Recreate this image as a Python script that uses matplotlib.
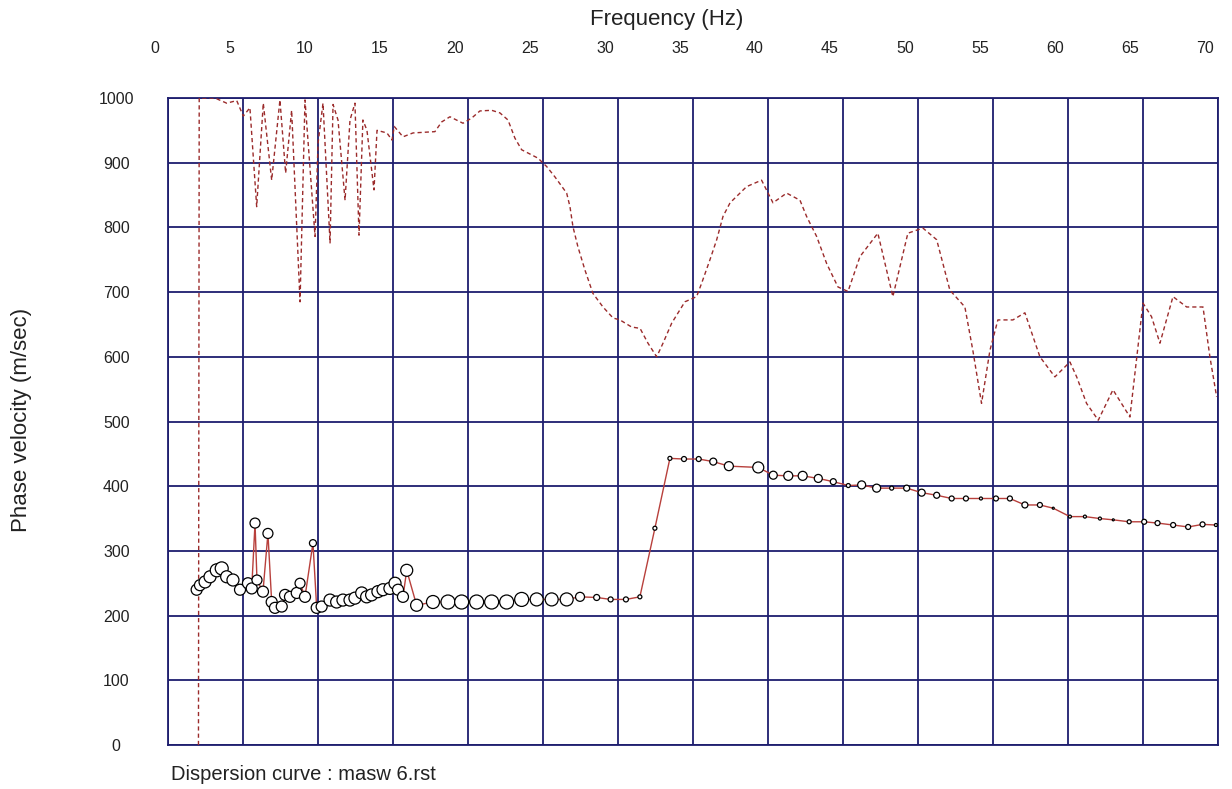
import matplotlib
matplotlib.use("Agg")
import matplotlib.pyplot as plt
import matplotlib.transforms as mtransforms

# dispersion curve (picked phase velocities)
freq = [1.93, 2.15, 2.49, 2.82, 3.27, 3.60, 3.93, 4.35, 4.82, 5.35,
        5.60, 5.82, 5.95, 6.35, 6.68, 6.93, 7.15, 7.60, 7.82, 8.15,
        8.60, 8.82, 9.15, 9.68, 9.93, 10.26, 10.82, 11.26, 11.68, 12.15,
        12.48, 12.93, 13.26, 13.59, 14.01, 14.35, 14.81, 15.15, 15.35, 15.68,
        15.93, 16.59, 17.68, 18.68, 19.59, 20.59, 21.59, 22.59, 23.59, 24.59,
        25.59, 26.59, 27.48, 28.59, 29.52, 30.54, 31.47, 32.47, 33.47, 34.41,
        35.39, 36.36, 37.40, 39.36, 40.36, 41.36, 42.32, 43.36, 44.36, 45.36,
        46.25, 47.25, 48.25, 49.25, 50.25, 51.25, 52.25, 53.20, 54.20, 55.20,
        56.13, 57.13, 58.13, 59.02, 60.13, 61.13, 62.13, 63.02, 64.08, 65.08,
        65.97, 67.01, 68.01, 68.97, 69.86]
velocity = [240, 247, 252, 260, 270, 273, 260, 255, 240, 250,
            242, 343, 255, 237, 327, 221, 212, 214, 232, 229,
            235, 250, 229, 312, 212, 214, 224, 221, 224, 224,
            227, 235, 229, 232, 237, 240, 242, 250, 240, 229,
            270, 216, 221, 221, 221, 221, 221, 221, 225, 225,
            225, 225, 229, 228, 225, 225, 229, 335, 443, 442,
            442, 438, 431, 429, 417, 416, 416, 412, 407, 401,
            402, 397, 397, 397, 390, 386, 381, 381, 381, 381,
            381, 371, 371, 366, 353, 353, 350, 348, 345, 345,
            343, 340, 337, 341, 340]
# relative quality of each pick (drawn as circle size)
quality = [11, 11, 12, 12, 13, 13, 12, 12, 11, 11,
           11, 10, 10, 11, 10, 11, 11, 11, 11, 11,
           11, 10, 11, 7, 11, 11, 12, 12, 12, 12,
           12, 12, 12, 12, 12, 12, 12, 12, 11, 11,
           12, 12, 13, 14, 14, 14, 14, 14, 14, 13,
           13, 13, 9, 6, 5, 5, 4, 4, 4, 5,
           5, 7, 9, 11, 8, 9, 9, 8, 6, 4,
           8, 8, 4, 6, 7, 6, 5, 5, 3, 5,
           5, 6, 5, 2, 3, 3, 3, 2, 4, 5,
           5, 5, 5, 5, 3]

# maximum-energy curve (dashed)
max_freq = [2.05, 2.10, 2.60, 3.15, 3.93, 4.60, 5.04, 5.48, 5.93, 6.37,
            6.93, 7.48, 7.86, 8.26, 8.82, 9.15, 9.82, 10.02, 10.35, 10.82,
            11.02, 11.35, 11.82, 12.15, 12.48, 12.75, 13.01, 13.28, 13.75, 13.95,
            14.61, 14.95, 15.10, 15.68, 16.35, 17.81, 18.26, 18.81, 19.68, 20.26,
            20.81, 21.59, 22.14, 22.68, 23.14, 23.59, 24.68, 25.26, 25.81, 26.59,
            26.81, 27.01, 27.34, 27.81, 28.34, 29.01, 29.68, 30.14, 30.92, 31.48,
            32.01, 32.59, 33.01, 33.59, 34.47, 35.25, 35.59, 36.14, 36.59, 37.01,
            37.48, 38.58, 39.58, 40.34, 41.25, 42.14, 42.58, 43.25, 43.92, 44.67,
            45.34, 46.14, 47.33, 48.33, 49.33, 50.33, 51.25, 52.13, 53.13, 53.66,
            54.24, 54.80, 55.33, 56.33, 57.13, 58.13, 59.13, 60.13, 60.58, 61.24,
            62.02, 63.00, 64.13, 65.00, 65.57, 66.13, 67.00, 67.91, 69.00, 69.46,
            69.91]
max_vel = [0, 1000, 1000, 1000, 992, 996, 972, 985, 832, 992,
           873, 997, 884, 981, 685, 997, 786, 930, 992, 776,
           990, 966, 842, 966, 992, 788, 966, 950, 858, 950,
           946, 935, 956, 940, 946, 948, 963, 971, 961, 969,
           980, 981, 977, 966, 938, 920, 907, 894, 878, 853,
           832, 801, 770, 734, 698, 677, 660, 657, 646, 644,
           621, 600, 621, 652, 685, 693, 714, 750, 781, 817,
           838, 863, 873, 838, 853, 842, 817, 786, 744, 708,
           701, 755, 791, 693, 791, 799, 781, 703, 677, 610,
           528, 610, 657, 657, 668, 600, 569, 592, 569, 528,
           502, 549, 507, 683, 662, 621, 693, 677, 677, 600,
           538]

x_ticks = list(range(0, 75, 5))
y_ticks = list(range(0, 1100, 100))

navy = "#1e1e6e"
plt.rcParams['font.family'] = ['Liberation Sans', 'DejaVu Sans']

fig = plt.figure(figsize=(12.32, 7.89), dpi=100)
ax = fig.add_axes([167.7 / 1232, 1 - 745 / 789, (1218 - 167.7) / 1232, (745 - 98) / 789])

ax.plot(max_freq, max_vel, color="#9b2b2b", lw=1.0, linestyle=(0, (3, 2.2)), zorder=3)
ax.plot(freq, velocity, color="#b8403c", lw=1.0, zorder=4)
sizes = [(q * 0.72) ** 2 for q in quality]
ax.scatter(freq, velocity, s=sizes, facecolors="white", edgecolors="black",
           linewidths=0.9, zorder=5)

ax.set_xlim(0, 70)
ax.set_ylim(0, 1000)
ax.set_xticks(x_ticks)
ax.set_yticks(y_ticks)
ax.xaxis.tick_top()
ax.tick_params(axis="x", length=0, pad=30, labelsize=11.5, colors="#222222")
ax.tick_params(axis="y", length=0, pad=37, labelsize=11.5, colors="#222222")
for lab in ax.get_yticklabels():
    lab.set_horizontalalignment("center")
shift = mtransforms.ScaledTranslation(-13 / 100, 0, fig.dpi_scale_trans)
for lab in ax.get_xticklabels():
    lab.set_transform(lab.get_transform() + shift)

ax.grid(True, color=navy, lw=1.3)
ax.set_axisbelow(True)
for sp in ax.spines.values():
    sp.set_color(navy)
    sp.set_linewidth(1.3)

fig.text(667 / 1232, 1 - 20 / 789, "Frequency (Hz)", ha="center", va="center",
         fontsize=16, color="#222222")
fig.text(22 / 1232, 1 - 420 / 789, "Phase velocity (m/sec)", ha="center", va="center",
         rotation=90, fontsize=16, color="#222222")
fig.text(171 / 1232, 1 - 775 / 789, "Dispersion curve : masw 6.rst", ha="left", va="center",
         fontsize=14.5, color="#222222")

fig.savefig("out.png", dpi=100)
